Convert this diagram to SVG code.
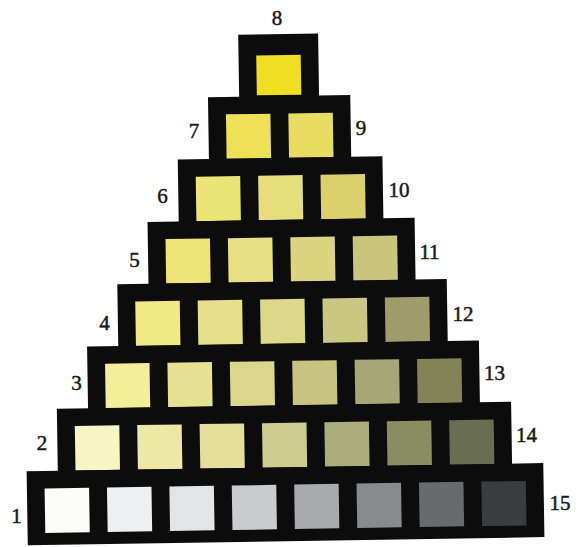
<svg xmlns="http://www.w3.org/2000/svg" width="579" height="547" viewBox="0 0 579 547">
<style>
.blk{fill:#0c0c0c}
.lbl{font-family:"Liberation Serif","Times New Roman",serif;font-size:21px;fill:#1a1a1a;stroke:#1a1a1a;stroke-width:0.5;text-anchor:middle}
</style>
<rect width="579" height="547" fill="#ffffff"/>
<g id="pyramid" transform="rotate(-0.9 282 290)">
  <g id="row8">
    <rect class="blk" x="242.2" y="34.2" width="79.9" height="63"/>
    <rect x="259.9" y="55" width="44.5" height="40" fill="#f1dd22"/>
  </g>
  <g id="row7">
    <rect class="blk" x="211" y="96" width="142.3" height="63"/>
    <rect x="228.7" y="113.5" width="44.5" height="44.5" fill="#eee157"/>
    <rect x="291.1" y="113.5" width="44.5" height="44.5" fill="#e8dc62"/>
  </g>
  <g id="row6">
    <rect class="blk" x="179.8" y="157.9" width="204.7" height="63"/>
    <rect x="197.5" y="175.4" width="44.5" height="44.5" fill="#ede478"/>
    <rect x="259.9" y="175.4" width="44.5" height="44.5" fill="#e6de7c"/>
    <rect x="322.3" y="175.4" width="44.5" height="44.5" fill="#dbd06c"/>
  </g>
  <g id="row5">
    <rect class="blk" x="148.6" y="219.8" width="267.1" height="63"/>
    <rect x="166.3" y="237.3" width="44.5" height="44.5" fill="#eee478"/>
    <rect x="228.7" y="237.3" width="44.5" height="44.5" fill="#e7df82"/>
    <rect x="291.1" y="237.3" width="44.5" height="44.5" fill="#dbd480"/>
    <rect x="353.5" y="237.3" width="44.5" height="44.5" fill="#c9c57a"/>
  </g>
  <g id="row4">
    <rect class="blk" x="117.4" y="281.6" width="329.5" height="63"/>
    <rect x="135.1" y="299.1" width="44.5" height="44.5" fill="#f1ea84"/>
    <rect x="197.5" y="299.1" width="44.5" height="44.5" fill="#e6e08c"/>
    <rect x="259.9" y="299.1" width="44.5" height="44.5" fill="#dcd88a"/>
    <rect x="322.3" y="299.1" width="44.5" height="44.5" fill="#cac782"/>
    <rect x="384.7" y="299.1" width="44.5" height="44.5" fill="#9e9c6a"/>
  </g>
  <g id="row3">
    <rect class="blk" x="86.2" y="343.5" width="391.9" height="63"/>
    <rect x="103.9" y="361" width="44.5" height="44.5" fill="#f3ee9a"/>
    <rect x="166.3" y="361" width="44.5" height="44.5" fill="#e7e292"/>
    <rect x="228.7" y="361" width="44.5" height="44.5" fill="#dad68a"/>
    <rect x="291.1" y="361" width="44.5" height="44.5" fill="#c7c482"/>
    <rect x="353.5" y="361" width="44.5" height="44.5" fill="#a6a676"/>
    <rect x="415.9" y="361" width="44.5" height="44.5" fill="#838358"/>
  </g>
  <g id="row2">
    <rect class="blk" x="55" y="405.3" width="454.3" height="63"/>
    <rect x="72.7" y="422.8" width="44.5" height="44.5" fill="#f9f4c4"/>
    <rect x="135.1" y="422.8" width="44.5" height="44.5" fill="#ece8a6"/>
    <rect x="197.5" y="422.8" width="44.5" height="44.5" fill="#e4df9a"/>
    <rect x="259.9" y="422.8" width="44.5" height="44.5" fill="#cfcc90"/>
    <rect x="322.3" y="422.8" width="44.5" height="44.5" fill="#acad7c"/>
    <rect x="384.7" y="422.8" width="44.5" height="44.5" fill="#8a8c62"/>
    <rect x="447.1" y="422.8" width="44.5" height="44.5" fill="#6a6e50"/>
  </g>
  <g id="row1">
    <rect class="blk" x="23.8" y="467.2" width="516.7" height="74"/>
    <rect x="41.5" y="484.7" width="44.5" height="44.5" fill="#fbfbf7"/>
    <rect x="103.9" y="484.7" width="44.5" height="44.5" fill="#edeff0"/>
    <rect x="166.3" y="484.7" width="44.5" height="44.5" fill="#e2e4e6"/>
    <rect x="228.7" y="484.7" width="44.5" height="44.5" fill="#c9cbcf"/>
    <rect x="291.1" y="484.7" width="44.5" height="44.5" fill="#a9aaad"/>
    <rect x="353.5" y="484.7" width="44.5" height="44.5" fill="#898a8d"/>
    <rect x="415.9" y="484.7" width="44.5" height="44.5" fill="#696a6d"/>
    <rect x="478.3" y="484.7" width="44.5" height="44.5" fill="#3a3d3e"/>
  </g>
</g>
<g id="labels">
  <text class="lbl" x="16.5" y="523">1</text>
  <text class="lbl" x="42" y="450">2</text>
  <text class="lbl" x="76.5" y="390">3</text>
  <text class="lbl" x="104.5" y="330">4</text>
  <text class="lbl" x="134.5" y="267">5</text>
  <text class="lbl" x="162.5" y="203">6</text>
  <text class="lbl" x="194" y="138">7</text>
  <text class="lbl" x="277" y="25">8</text>
  <text class="lbl" x="361" y="135">9</text>
  <text class="lbl" x="399" y="197">10</text>
  <text class="lbl" x="429.5" y="259">11</text>
  <text class="lbl" x="463" y="321">12</text>
  <text class="lbl" x="494.5" y="380">13</text>
  <text class="lbl" x="526.5" y="442">14</text>
  <text class="lbl" x="560" y="510">15</text>
</g>
</svg>
